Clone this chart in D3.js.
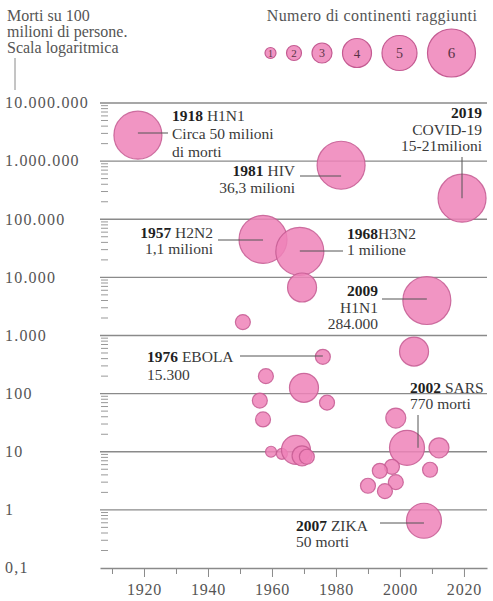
<!DOCTYPE html>
<html>
<head>
<meta charset="utf-8">
<script src="https://cdn.jsdelivr.net/npm/d3@7"></script>
<style>
  body { margin: 0; background: #fff; }
  svg { display: block; }
</style>
</head>
<body>
<svg id="chart"></svg>
<script>
const width = 493, height = 601;
const serif = "'Liberation Serif', 'Times New Roman', serif";

/* DATA */
// one entry per epidemic: year, deaths per 100 million people, continents reached
const years      = [1918.1, 1981.6, 2019.4, 1957.2, 1968.7, 1969.4, 1950.9, 1975.9, 2008.4, 2004.4,
                    1958.1, 1970.0, 1956.2, 1977.2, 1957.2, 1959.7, 1963.1, 1967.5, 1969.4, 1970.9,
                    1998.7, 2002.2, 2012.2, 2009.4, 1997.5, 1993.7, 1998.7, 1990.0, 1995.3, 2007.5];
const deaths     = [2800000, 850000, 230000, 45000, 28000, 6700, 1700, 430, 4000, 530,
                    200, 126, 76, 70, 36, 10, 9.2, 10.8, 8.5, 8.2,
                    38, 11.7, 11.7, 4.9, 5.5, 4.7, 3.0, 2.6, 2.1, 0.65];
const continents = [6, 6, 6, 6, 6, 4, 2, 2, 6, 4,
                    2, 4, 2, 2, 2, 1, 1, 4, 3, 2,
                    3, 5, 3, 2, 2, 2, 2, 2, 2, 5];

const yTickValues = [1e7, 1e6, 1e5, 1e4, 1e3, 100, 10, 1, 0.1];
const yTickLabels = ["10.000.000", "1.000.000", "100.000", "10.000", "1.000", "100", "10", "1", "0,1"];
const xMajorTicks = [1920, 1940, 1960, 1980, 2000, 2020];
const xMinorTicks = [1910, 1930, 1950, 1970, 1990, 2010];
const legendValues = [1, 2, 3, 4, 5, 6];

const epidemics = years.map((d, i) => ({ year: d, deaths: deaths[i], continents: continents[i] }));

// labels: which circle they point to, text lines ([bold, regular])
const annotations = [
  { idx: 0, lines: [["1918", " H1N1"], ["", "Circa 50 milioni"], ["", "di morti"]],
    anchor: "start", x: 172, y: 121, lh: 18, ptr: { type: "h", x: 168, y: 133 } },
  { idx: 1, lines: [["1981", " HIV"], ["", "36,3 milioni"]],
    anchor: "end", x: 295, y: 176, lh: 17, ptr: { type: "h", x: 300, y: 176 } },
  { idx: 2, lines: [["2019", ""], ["", "COVID-19"], ["", "15-21milioni"]],
    anchor: "end", x: 482, y: 118, lh: 16.5, ptr: { type: "v", x: 462, y: 157 } },
  { idx: 3, lines: [["1957", " H2N2"], ["", "1,1 milioni"]],
    anchor: "end", x: 213, y: 238, lh: 16, ptr: { type: "h", x: 218, y: 240 } },
  { idx: 4, lines: [["1968", "H3N2"], ["", "1 milione"]],
    anchor: "start", x: 347, y: 239, lh: 16, ptr: { type: "h", x: 343, y: 251 } },
  { idx: 8, lines: [["2009", ""], ["", "H1N1"], ["", "284.000"]],
    anchor: "end", x: 378, y: 296, lh: 16.5, ptr: { type: "h", x: 382, y: 299 } },
  { idx: 7, lines: [["1976", " EBOLA"], ["", "15.300"]],
    anchor: "start", x: 147, y: 362, lh: 18, ptr: { type: "h", x: 240, y: 356 } },
  { idx: 21, lines: [["2002", " SARS"], ["", "770 morti"]],
    anchor: "start", x: 410, y: 393, lh: 16, ptr: { type: "v", x: 418, y: 415 } },
  { idx: 29, lines: [["2007", " ZIKA"], ["", "50 morti"]],
    anchor: "start", x: 296, y: 531, lh: 16, ptr: { type: "h", x: 380, y: 523 } }
];

const colors = {
  fill: "#ee82b8",
  stroke: "#c45b92",
  grid: "#8a8a8a",
  axisText: "#555",
  text: "#3a3a3a",
  bold: "#1f1f1f"
};

/* SVG */
const svg = d3.select("#chart")
  .attr("width", width)
  .attr("height", height)
  .style("font-family", serif);

/* SCALES */
const xScale = d3.scaleLinear()
  .domain([1906.25, 2027.2])
  .range([100, 487]);

const yScale = d3.scaleLog()
  .domain([0.1, 1e7])
  .range([568, 103]);

const rScale = d3.scaleOrdinal()
  .domain(legendValues)
  .range([5.5, 7.5, 10, 14.5, 17.5, 24]);

// HEADER (y axis title)
svg.append("text")
  .attr("x", 7)
  .attr("y", 21)
  .attr("fill", colors.axisText)
  .style("font-family", serif)
  .style("font-size", "16px")
  .selectAll("tspan")
  .data(["Morti su 100", "milioni di persone.", "Scala logaritmica"])
  .join("tspan")
  .attr("x", 7)
  .attr("dy", (d, i) => i === 0 ? 0 : 16)
  .text(d => d);

svg.append("line")
  .attr("x1", 15).attr("x2", 15)
  .attr("y1", 58).attr("y2", 90)
  .attr("stroke", colors.grid)
  .attr("stroke-width", 1);

// LEGEND
svg.append("text")
  .attr("x", 372)
  .attr("y", 21)
  .attr("text-anchor", "middle")
  .attr("fill", colors.axisText)
  .style("font-family", serif)
  .style("font-size", "16px")
  .style("letter-spacing", "0.4px")
  .text("Numero di continenti raggiunti");

let legendX = 265;
const legendPos = legendValues.map(v => {
  const r = rScale(v);
  const cx = legendX + r;
  legendX = cx + r + 10.5;
  return { v, cx, r };
});

const legend = svg.append("g").attr("class", "legend");

legend.selectAll("circle")
  .data(legendPos)
  .join("circle")
  .attr("cx", d => d.cx)
  .attr("cy", 53)
  .attr("r", d => d.r)
  .attr("fill", colors.fill)
  .attr("fill-opacity", 0.85)
  .attr("stroke", colors.stroke)
  .attr("stroke-width", 1.2);

legend.selectAll("text")
  .data(legendPos)
  .join("text")
  .attr("x", d => d.cx)
  .attr("y", 53)
  .attr("dy", "0.35em")
  .attr("text-anchor", "middle")
  .attr("fill", "#5a3346")
  .style("font-family", serif)
  .style("font-size", d => (9 + d.v) + "px")
  .text(d => d.v);

// GRIDLINES
svg.append("g")
  .selectAll("line")
  .data(yTickValues.slice(0, -1))
  .join("line")
  .attr("x1", xScale.range()[0])
  .attr("x2", xScale.range()[1])
  .attr("y1", d => yScale(d))
  .attr("y2", d => yScale(d))
  .attr("stroke", colors.grid)
  .attr("stroke-width", 1.4);

// MINOR LOG TICKS
const minorTicks = [];
yTickValues.slice(1).forEach(base => {
  for (let k = 2; k <= 9; k++) minorTicks.push(base * k);
});

svg.append("g")
  .selectAll("line")
  .data(minorTicks)
  .join("line")
  .attr("x1", 101)
  .attr("x2", 108)
  .attr("y1", d => yScale(d))
  .attr("y2", d => yScale(d))
  .attr("stroke", "#999")
  .attr("stroke-width", 1);

// Y LABELS
svg.append("g")
  .selectAll("text")
  .data(yTickValues)
  .join("text")
  .attr("x", 5)
  .attr("y", d => yScale(d))
  .attr("dy", "0.33em")
  .attr("fill", colors.axisText)
  .style("font-family", serif)
  .style("font-size", "16px")
  .style("letter-spacing", "1.2px")
  .text((d, i) => yTickLabels[i]);

// X AXIS
const xAxisGroup = svg.append("g")
  .attr("transform", `translate(0, ${yScale(0.1)})`)
  .call(d3.axisBottom(xScale)
    .tickValues(xMajorTicks)
    .tickFormat(d3.format("d"))
    .tickSize(9)
    .tickSizeOuter(0)
    .tickPadding(7));

xAxisGroup.attr("font-family", null);

xAxisGroup.select(".domain")
  .attr("stroke", colors.grid)
  .attr("stroke-width", 1.4);

xAxisGroup.selectAll(".tick line")
  .attr("stroke", colors.grid);

xAxisGroup.selectAll(".tick text")
  .attr("fill", colors.axisText)
  .style("font-family", serif)
  .style("font-size", "16px")
  .style("letter-spacing", "0.8px");

svg.append("g")
  .attr("transform", `translate(0, ${yScale(0.1)})`)
  .call(d3.axisBottom(xScale)
    .tickValues(xMinorTicks)
    .tickFormat("")
    .tickSize(6)
    .tickSizeOuter(0))
  .call(g => g.select(".domain").remove())
  .selectAll(".tick line")
  .attr("stroke", colors.grid);

// BUBBLES
svg.append("g")
  .selectAll("circle")
  .data(epidemics)
  .join("circle")
  .attr("cx", d => xScale(d.year))
  .attr("cy", d => yScale(d.deaths))
  .attr("r", d => rScale(d.continents))
  .attr("fill", colors.fill)
  .attr("fill-opacity", 0.85)
  .attr("stroke", colors.stroke)
  .attr("stroke-opacity", 0.85)
  .attr("stroke-width", 1.2);

// POINTERS
svg.append("g")
  .selectAll("line")
  .data(annotations)
  .join("line")
  .attr("x1", d => d.ptr.x)
  .attr("y1", d => d.ptr.y)
  .attr("x2", d => d.ptr.type === "h" ? xScale(epidemics[d.idx].year) : d.ptr.x)
  .attr("y2", d => d.ptr.type === "h" ? d.ptr.y : yScale(epidemics[d.idx].deaths))
  .attr("stroke", "#555")
  .attr("stroke-width", 1);

// LABELS
annotations.forEach(a => {
  const t = svg.append("text")
    .attr("text-anchor", a.anchor)
    .style("font-family", serif)
    .style("font-size", "15.5px");

  a.lines.forEach((line, i) => {
    const row = t.append("tspan")
      .attr("x", a.x)
      .attr("y", a.y + i * a.lh);
    if (line[0]) {
      row.append("tspan")
        .attr("font-weight", "bold")
        .attr("fill", colors.bold)
        .text(line[0]);
    }
    if (line[1]) {
      row.append("tspan")
        .attr("fill", colors.text)
        .text(line[1]);
    }
  });
});
</script>
</body>
</html>
